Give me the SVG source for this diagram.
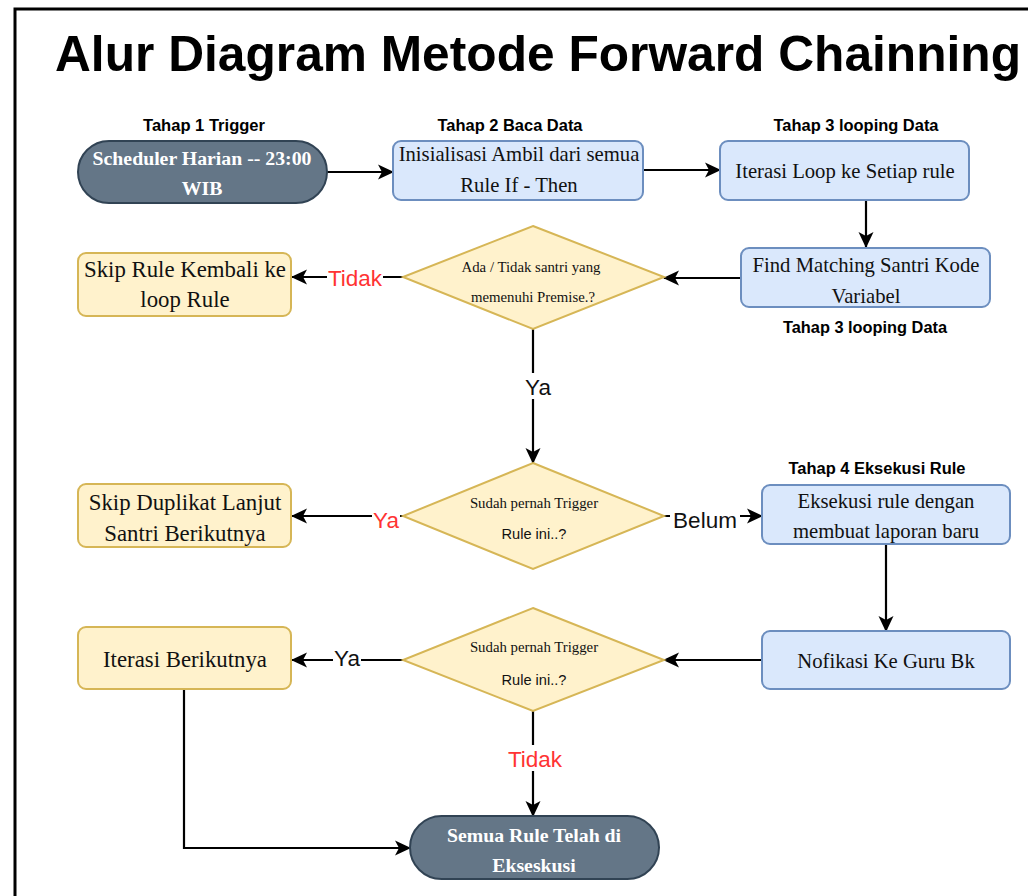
<svg xmlns="http://www.w3.org/2000/svg" width="1028" height="896" viewBox="0 0 1028 896">
<style>
.bg{fill:#ffffff}
.frame{fill:none;stroke:#000;stroke-width:3}
.title{font-family:"Liberation Sans",Arial,sans-serif;font-weight:bold;font-size:50px;fill:#000}
.stage{font-family:"Liberation Sans",Arial,sans-serif;font-weight:bold;font-size:16px;fill:#000;text-anchor:middle}
.term{fill:#647687;stroke:#314354;stroke-width:2}
.termt{font-family:"Liberation Serif","Times New Roman",serif;font-weight:bold;font-size:19.8px;fill:#fff;text-anchor:middle}
.blue{fill:#dae8fc;stroke:#6c8ebf;stroke-width:2}
.yel{fill:#fff2cc;stroke:#d6b656;stroke-width:2}
.bt{font-family:"Liberation Serif","Times New Roman",serif;font-size:20.7px;fill:#111;text-anchor:middle}
.yt{font-family:"Liberation Serif","Times New Roman",serif;font-size:22.8px;fill:#111;text-anchor:middle}
.dt{font-family:"Liberation Serif","Times New Roman",serif;font-size:14.8px;fill:#111;text-anchor:middle}
.ds{font-family:"Liberation Sans",Arial,sans-serif;font-size:14.6px;fill:#111;text-anchor:middle}
.conn{fill:none;stroke:#000;stroke-width:2.2}
.lbl{font-family:"Liberation Sans",Arial,sans-serif;font-size:22.5px;text-anchor:middle}
.red{fill:#ff3333}
.blk{fill:#111}
.lbg{fill:#fff}
</style>
<defs>
<marker id="arr" markerUnits="userSpaceOnUse" markerWidth="18" markerHeight="18" refX="15" refY="9" orient="auto">
<path d="M0,1.5 L16,9 L0,16.5 L4,9 z" fill="#000"/>
</marker>
</defs>
<rect class="bg" x="0" y="0" width="1028" height="896"/>
<path class="frame" d="M15,896 V9 H1028"/>
<text class="title" x="538" y="71" text-anchor="middle" textLength="966" lengthAdjust="spacingAndGlyphs">Alur Diagram Metode Forward Chainning</text>

<g id="connectors">
<path class="conn" d="M327,172 H393" marker-end="url(#arr)"/>
<path class="conn" d="M643,170 H720" marker-end="url(#arr)"/>
<path class="conn" d="M866,200 V247" marker-end="url(#arr)"/>
<path class="conn" d="M741,278 H664" marker-end="url(#arr)"/>
<path class="conn" d="M403,277 H292" marker-end="url(#arr)"/>
<path class="conn" d="M533,329 V463" marker-end="url(#arr)"/>
<path class="conn" d="M403,516 H292" marker-end="url(#arr)"/>
<path class="conn" d="M664,516 H762" marker-end="url(#arr)"/>
<path class="conn" d="M886,544 V631" marker-end="url(#arr)"/>
<path class="conn" d="M762,660 H664" marker-end="url(#arr)"/>
<path class="conn" d="M403,660 H292" marker-end="url(#arr)"/>
<path class="conn" d="M184,689 V848 H410" marker-end="url(#arr)"/>
<path class="conn" d="M533,711 V816" marker-end="url(#arr)"/>
<rect class="lbg" x="327" y="265" width="56" height="26"/>
<text class="lbl red" x="355" y="286">Tidak</text>
<rect class="lbg" x="523" y="373" width="30" height="26"/>
<text class="lbl blk" x="538" y="395">Ya</text>
<rect class="lbg" x="372" y="506" width="28" height="26"/>
<text class="lbl red" x="386" y="528">Ya</text>
<rect class="lbg" x="670" y="509" width="70" height="26"/>
<text class="lbl blk" x="705" y="528">Belum</text>
<rect class="lbg" x="333" y="646" width="28" height="26"/>
<text class="lbl blk" x="347" y="666">Ya</text>
<rect class="lbg" x="506" y="745" width="58" height="26"/>
<text class="lbl red" x="535" y="767">Tidak</text>
</g>

<g id="n-scheduler">
<text class="stage" x="204" y="131" textLength="122" lengthAdjust="spacingAndGlyphs">Tahap 1 Trigger</text>
<rect class="term" x="78" y="141" width="249" height="62" rx="31"/>
<text class="termt" x="202" y="165">Scheduler Harian -- 23:00</text>
<text class="termt" x="202" y="195">WIB</text>
</g>

<g id="n-inisialisasi">
<text class="stage" x="510" y="131" textLength="145" lengthAdjust="spacingAndGlyphs">Tahap 2 Baca Data</text>
<rect class="blue" x="393" y="141" width="250" height="59" rx="8"/>
<text class="bt" x="519" y="161">Inisialisasi Ambil dari semua</text>
<text class="bt" x="519" y="192">Rule If - Then</text>
</g>

<g id="n-iterasi">
<text class="stage" x="856" y="131" textLength="165" lengthAdjust="spacingAndGlyphs">Tahap 3 looping Data</text>
<rect class="blue" x="720" y="141" width="249" height="59" rx="8"/>
<text class="bt" x="845" y="178">Iterasi Loop ke Setiap rule</text>
</g>

<g id="n-find">
<rect class="blue" x="741" y="248" width="249" height="59" rx="8"/>
<text class="bt" x="866" y="272">Find Matching Santri Kode</text>
<text class="bt" x="866" y="303">Variabel</text>
<text class="stage" x="865" y="333" textLength="164" lengthAdjust="spacingAndGlyphs">Tahap 3 looping Data</text>
</g>

<g id="n-decision1">
<path class="yel" d="M533,226 L664,277 L533,329 L403,277 Z"/>
<text class="dt" x="531" y="272">Ada / Tidak santri yang</text>
<text class="dt" x="533" y="302">memenuhi Premise.?</text>
</g>

<g id="n-skiprule">
<rect class="yel" x="78" y="253" width="213" height="63" rx="8"/>
<text class="yt" x="185" y="277">Skip Rule Kembali ke</text>
<text class="yt" x="185" y="307">loop Rule</text>
</g>

<g id="n-decision2">
<path class="yel" d="M533,463 L664,516 L533,569 L403,516 Z"/>
<text class="dt" x="534" y="508">Sudah pernah Trigger</text>
<text class="ds" x="534" y="539">Rule ini..?</text>
</g>

<g id="n-skipdup">
<rect class="yel" x="78" y="484" width="213" height="63" rx="8"/>
<text class="yt" x="185" y="510">Skip Duplikat Lanjut</text>
<text class="yt" x="185" y="541">Santri Berikutnya</text>
</g>

<g id="n-eksekusi">
<text class="stage" x="877" y="474" textLength="177" lengthAdjust="spacingAndGlyphs">Tahap 4 Eksekusi Rule</text>
<rect class="blue" x="762" y="485" width="248" height="59" rx="8"/>
<text class="bt" x="886" y="508">Eksekusi rule dengan</text>
<text class="bt" x="886" y="538">membuat laporan baru</text>
</g>

<g id="n-notifikasi">
<rect class="blue" x="762" y="631" width="248" height="58" rx="8"/>
<text class="bt" x="886" y="668">Nofikasi Ke Guru Bk</text>
</g>

<g id="n-decision3">
<path class="yel" d="M533,608 L664,660 L533,711 L403,660 Z"/>
<text class="dt" x="534" y="652">Sudah pernah Trigger</text>
<text class="ds" x="534" y="685">Rule ini..?</text>
</g>

<g id="n-iterasiberikut">
<rect class="yel" x="78" y="627" width="213" height="62" rx="8"/>
<text class="yt" x="185" y="667">Iterasi Berikutnya</text>
</g>

<g id="n-selesai">
<rect class="term" x="410" y="816" width="249" height="63" rx="31.5"/>
<text class="termt" x="534" y="842">Semua Rule Telah di</text>
<text class="termt" x="534" y="872">Ekseskusi</text>
</g>
</svg>
